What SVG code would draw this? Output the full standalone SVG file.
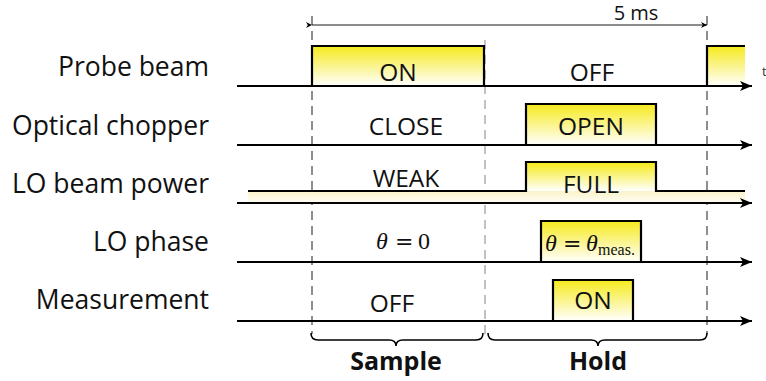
<svg xmlns="http://www.w3.org/2000/svg" width="766" height="381" viewBox="0 0 766 381">
  <defs>
    <linearGradient id="yel" x1="0" y1="0" x2="0" y2="1">
      <stop offset="0" stop-color="#f6ea1c"/>
      <stop offset="1" stop-color="#ffffff"/>
    </linearGradient>
    <linearGradient id="yelFaint" x1="0" y1="0" x2="0" y2="1">
      <stop offset="0" stop-color="#fbf3c8"/>
      <stop offset="1" stop-color="#fffdf2"/>
    </linearGradient>
    <marker id="arr" viewBox="0 0 10 10" refX="10" refY="5" markerWidth="6" markerHeight="6" markerUnits="userSpaceOnUse" orient="auto">
      <path d="M0,0 L10,5 L0,10 L3,5 Z" fill="#000"/>
    </marker>
    <marker id="axisArr" viewBox="0 0 12 10" refX="12" refY="5" markerWidth="12" markerHeight="10" markerUnits="userSpaceOnUse" orient="auto">
      <path d="M0,0 L12,5 L0,10 L3,5 Z" fill="#000"/>
    </marker>
  </defs>
  <style>
    .lbl { font-family: "Open Sans", "Noto Sans", "DejaVu Sans", sans-serif; font-size: 26.5px; fill: #111; text-anchor: end; }
    .st { font-family: "Open Sans", "Noto Sans", "DejaVu Sans", sans-serif; font-size: 24.5px; fill: #111; text-anchor: middle; }
    .bold { font-family: "Open Sans", "Noto Sans", "DejaVu Sans", sans-serif; font-size: 25px; font-weight: bold; fill: #111; text-anchor: middle; }
    .math { font-family: "Liberation Serif", "DejaVu Serif", serif; font-size: 24px; fill: #111; }
    .it { font-style: italic; }
    .eq { font-family: "DejaVu Serif", serif; font-size: 22px; }
    .axis { stroke: #000; stroke-width: 2; fill: none; }
    .pulse { stroke: #000; stroke-width: 2.2; fill: url(#yel); }
    .dash { stroke: #444; stroke-width: 1.2; stroke-dasharray: 9 6; fill: none; }
    .dashL { stroke: #999; stroke-width: 1.2; stroke-dasharray: 9 6; fill: none; }
    .brace { stroke: #000; stroke-width: 1.6; fill: none; }
  </style>

  <!-- time markers -->
  <g id="markers">
    <line class="dash" x1="312" y1="16" x2="312" y2="334"/>
    <line class="dashL" x1="485" y1="40" x2="485" y2="334"/>
    <line class="dash" x1="707" y1="16" x2="707" y2="334"/>
  </g>

  <!-- period annotation -->
  <g id="period">
    <line x1="312" y1="25" x2="707" y2="25" stroke="#000" stroke-width="0.9" marker-start="url(#arr)" marker-end="url(#arr)"/>
    <text x="636" y="20" font-family="Open Sans, Noto Sans, sans-serif" font-size="20" fill="#111" text-anchor="middle">5 ms</text>
  </g>

  <!-- row labels -->
  <g id="labels">
    <text class="lbl" x="209" y="76">Probe beam</text>
    <text class="lbl" x="209" y="135">Optical chopper</text>
    <text class="lbl" x="209" y="193">LO beam power</text>
    <text class="lbl" x="209" y="251">LO phase</text>
    <text class="lbl" x="209" y="309">Measurement</text>
  </g>

  <!-- signal traces -->
  <g id="probe-beam">
    <path class="pulse" d="M312,86 V46 H484 V86"/>
    <rect x="707" y="46" width="38" height="40" fill="url(#yel)"/>
    <path d="M707,86 V46 H745" stroke="#000" stroke-width="2.2" fill="none"/>
    <text class="st" x="398" y="81">ON</text>
    <text class="st" x="592" y="81">OFF</text>
  </g>

  <g id="optical-chopper">
    <path class="pulse" d="M526,145 V104 H656 V145"/>
    <text class="st" x="406" y="135">CLOSE</text>
    <text class="st" x="591" y="135">OPEN</text>
  </g>

  <g id="lo-beam-power">
    <rect x="248" y="191" width="497" height="11" fill="url(#yelFaint)"/>
    <path d="M527,191 V163 H655 V191 Z" fill="url(#yel)"/>
    <path d="M248,191 H526 V162 H656 V191 H745" stroke="#000" stroke-width="2.2" fill="none"/>
    <text class="st" x="406" y="187">WEAK</text>
    <text class="st" x="591" y="193">FULL</text>
  </g>

  <g id="lo-phase">
    <path class="pulse" d="M541,262 V221 H641 V262"/>
    <text class="math"><tspan class="it" x="376" y="249">θ</tspan><tspan class="eq" x="395" y="249">=</tspan><tspan x="418" y="249">0</tspan></text>
    <text class="math"><tspan class="it" x="545" y="251">θ</tspan><tspan class="eq" x="563" y="251">=</tspan><tspan class="it" x="586" y="251">θ</tspan><tspan x="598" y="255" font-size="16">meas.</tspan></text>
  </g>

  <g id="measurement">
    <path class="pulse" d="M553,321 V280 H633 V321"/>
    <text class="st" x="392" y="312">OFF</text>
    <text class="st" x="593" y="309">ON</text>
  </g>

  <!-- time axes -->
  <g id="axes">
    <line class="axis" x1="237" y1="86" x2="752" y2="86" marker-end="url(#axisArr)"/>
    <line class="axis" x1="237" y1="145" x2="752" y2="145" marker-end="url(#axisArr)"/>
    <line class="axis" x1="237" y1="203" x2="752" y2="203" marker-end="url(#axisArr)"/>
    <line class="axis" x1="237" y1="262" x2="752" y2="262" marker-end="url(#axisArr)"/>
    <line class="axis" x1="237" y1="321" x2="752" y2="321" marker-end="url(#axisArr)"/>
    <text x="762" y="76" font-family="Open Sans, sans-serif" font-size="13" fill="#333">t</text>
  </g>

  <!-- phase braces -->
  <g id="sample">
    <path class="brace" d="M311,333 q0,7 7,7 H389 q7,0 7,6 q0,-6 7,-6 H476 q7,0 7,-7"/>
    <text class="bold" x="396" y="370">Sample</text>
  </g>
  <g id="hold">
    <path class="brace" d="M488,333 q0,7 7,7 H591 q7,0 7,6 q0,-6 7,-6 H700 q7,0 7,-7"/>
    <text class="bold" x="598" y="370">Hold</text>
  </g>
</svg>
